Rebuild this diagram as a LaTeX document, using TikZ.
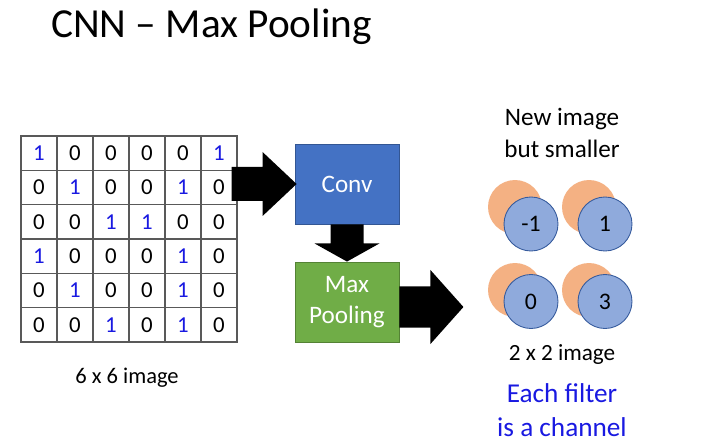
\documentclass[tikz,border=0pt]{standalone}
\usepackage{fontspec}
\setmainfont{Carlito}
\usetikzlibrary{calc,positioning}

\definecolor{convblue}{HTML}{4472C4}
\definecolor{poolgreen}{HTML}{70AD47}
\definecolor{chanorange}{HTML}{F4B183}
\definecolor{chanblue}{HTML}{8FAADC}
\definecolor{numblue}{RGB}{25,25,225}

\tikzset{
  cell/.style={draw=gray!70!black, line width=0.6pt, minimum width=0.72cm,
    minimum height=0.687cm, inner sep=0pt, font=\fontsize{13}{15}\selectfont},
  val0/.style={text=black},
  val1/.style={text=numblue},
  block/.style={line width=0.5pt, minimum width=2.08cm, minimum height=1.6cm,
    inner sep=0pt, text=white, align=center,
    font=\fontsize{14.3}{17.6}\selectfont},
  fatarrow/.style={fill=black},
  orangechan/.style={circle, fill=chanorange, minimum size=1.08cm, inner sep=0pt},
  bluechan/.style={circle, fill=chanblue, draw=convblue!80!black, line width=0.5pt,
    minimum size=1.08cm, inner sep=0pt, font=\fontsize{13.5}{15}\selectfont},
  caption/.style={align=center, font=\fontsize{14.3}{18.2}\selectfont}
}

\begin{document}
\begin{tikzpicture}[x=0.02cm,y=-0.02cm]

\useasboundingbox (0,0) rectangle (727,442);

%%%%%%%%%%%%%%%%%%%%%%%%%%%%%%%%%%%%%%%%%%%%%%%%%%%%%%
% TITLE
%%%%%%%%%%%%%%%%%%%%%%%%%%%%%%%%%%%%%%%%%%%%%%%%%%%%%%

\node[
font=\fontsize{23.5}{27}\selectfont,
anchor=west
] (title) at (45,27)
{CNN -- Max Pooling};

%%%%%%%%%%%%%%%%%%%%%%%%%%%%%%%%%%%%%%%%%%%%%%%%%%%%%%
% 6 x 6 IMAGE
%%%%%%%%%%%%%%%%%%%%%%%%%%%%%%%%%%%%%%%%%%%%%%%%%%%%%%

\foreach \row [count=\r] in {{1,0,0,0,0,1},{0,1,0,0,1,0},{0,0,1,1,0,0},
                             {1,0,0,0,1,0},{0,1,0,0,1,0},{0,0,1,0,1,0}}
{
  \foreach \v [count=\c] in \row
  {
    \node[cell, val\v] (cell-\r-\c) at ({3+36*\c},{136+34.33*(\r-0.5)}) {\v};
  }
}

\node[
caption,
font=\fontsize{12.8}{15}\selectfont
]
(imglabel)
at (127,378)
{6 x 6 image};

%%%%%%%%%%%%%%%%%%%%%%%%%%%%%%%%%%%%%%%%%%%%%%%%%%%%%%
% Conv
%%%%%%%%%%%%%%%%%%%%%%%%%%%%%%%%%%%%%%%%%%%%%%%%%%%%%%

\node[
block,
fill=convblue,
draw=convblue!75!black
]
(conv)
at (347,184)
{Conv};

%%%%%%%%%%%%%%%%%%%%%%%%%%%%%%%%%%%%%%%%%%%%%%%%%%%%%%
% Max Pooling
%%%%%%%%%%%%%%%%%%%%%%%%%%%%%%%%%%%%%%%%%%%%%%%%%%%%%%

\node[
block,
fill=poolgreen,
draw=poolgreen!75!black
]
(pool)
at (347,302)
{Max\\Pooling};

%%%%%%%%%%%%%%%%%%%%%%%%%%%%%%%%%%%%%%%%%%%%%%%%%%%%%%
% ARROWS
%%%%%%%%%%%%%%%%%%%%%%%%%%%%%%%%%%%%%%%%%%%%%%%%%%%%%%

\fill[fatarrow]
($(cell-2-6.east |- conv.west)+(-6,-17)$) -- ($(conv.west)+(-32,-17)$)
-- ($(conv.west)+(-32,-32)$) -- ($(conv.west)+(2,0)$)
-- ($(conv.west)+(-32,32)$) -- ($(conv.west)+(-32,17)$)
-- ($(cell-2-6.east |- conv.west)+(-6,17)$) -- cycle;

\fill[fatarrow]
($(conv.south)+(-16.5,0)$) -- ($(conv.south)+(-16.5,19)$)
-- ($(conv.south)+(-32.5,19)$) -- (pool.north)
-- ($(conv.south)+(32.5,19)$) -- ($(conv.south)+(16.5,19)$)
-- ($(conv.south)+(16.5,0)$) -- cycle;

\coordinate (a2) at ($(pool.east)+(0,5)$);
\fill[fatarrow]
($(a2)+(0,-20.5)$) -- ($(a2)+(31,-20.5)$)
-- ($(a2)+(31,-37)$) -- ($(a2)+(64,0)$)
-- ($(a2)+(31,37)$) -- ($(a2)+(31,20.5)$)
-- ($(a2)+(0,20.5)$) -- cycle;

%%%%%%%%%%%%%%%%%%%%%%%%%%%%%%%%%%%%%%%%%%%%%%%%%%%%%%
% NEW IMAGE (2 x 2, two channels)
%%%%%%%%%%%%%%%%%%%%%%%%%%%%%%%%%%%%%%%%%%%%%%%%%%%%%%

\node[caption]
(newimg)
at (562,133)
{New image\\but smaller};

\foreach \cx/\cy/\dy/\val/\nm in {515/207/17/-1/a, 589/207/17/1/b,
                                  515/290/11.5/0/c, 589/290/11.5/3/d}
{
  \node[orangechan] (o\nm) at (\cx,\cy) {};
  \node[bluechan] (b\nm) at ($(o\nm)+(16,\dy)$) {\val};
}

\node[
caption,
font=\fontsize{13.2}{15}\selectfont
]
(smalllabel)
at (562,355)
{2 x 2 image};

\node[
caption,
text=numblue,
font=\fontsize{15.5}{19}\selectfont
]
(chanlabel)
at (562,410)
{Each filter\\is a channel};

\end{tikzpicture}
\end{document}
